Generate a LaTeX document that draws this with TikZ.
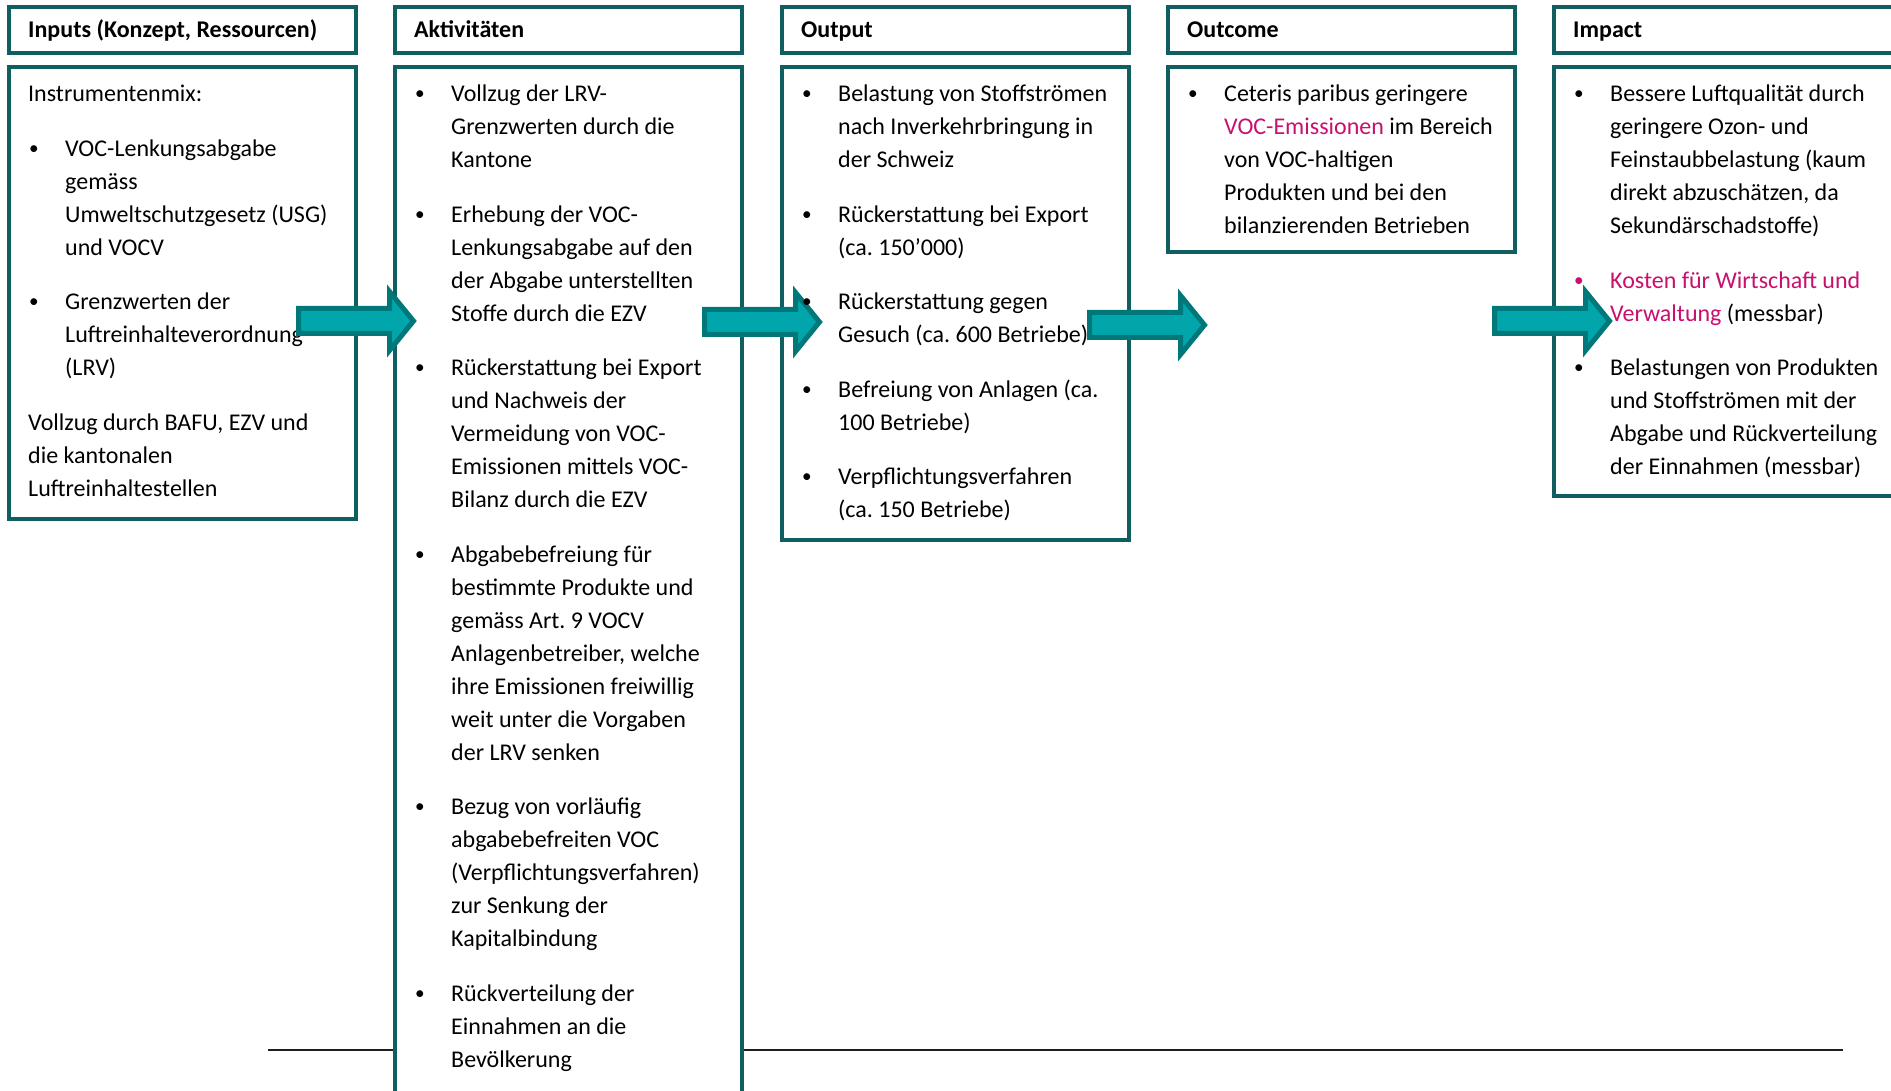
\documentclass[tikz,border=0pt]{standalone}
\usepackage{fontspec}
\usepackage{graphicx}
\setmainfont{Carlito}
\frenchspacing
\definecolor{boxc}{RGB}{16,94,96}
\definecolor{arrfill}{RGB}{0,166,171}
\definecolor{arredge}{RGB}{0,120,122}
\definecolor{mag}{RGB}{200,16,110}
\definecolor{rulec}{RGB}{30,30,30}
\newcommand\bodyf{\fontsize{24pt}{33pt}\selectfont}
\newcommand\colt[1]{\vtop{\hsize=380pt\bodyf\frenchspacing\raggedright\def\\{\break}\parindent=0pt\parskip=21.5pt\relax #1\par}}
\newcommand\mybul{\raisebox{1.7pt}{\scalebox{0.8}{\textbullet}}}
\newcommand\bitem[2][black]{\par\hangindent=37pt\hangafter=1\noindent\makebox[37pt][l]{\hspace{1pt}\textcolor{#1}{\mybul}}#2\par}
\newcommand\bigarr[2]{\begin{scope}[shift={(#1,#2)}]\draw[bigarrow] (2.5,-12.5) -- (93.5,-12.5) -- (93.5,-29.5) -- (117.5,0) -- (93.5,29.5) -- (93.5,12.5) -- (2.5,12.5) -- cycle;\end{scope}}
\tikzset{
  boxline/.style={draw=boxc, line width=4pt, fill=white},
  bigarrow/.style={draw=arredge, fill=arrfill, line width=5pt, line join=miter},
  hdr/.style={anchor=base west, inner sep=0pt, font=\bodyf\bfseries},
  txt/.style={anchor=base west, inner sep=0pt},
  sepline/.style={draw=rulec, line width=2.5pt}
}
\begin{document}
\begin{tikzpicture}[x=1pt,y=-1pt]
\useasboundingbox (0,0) rectangle (1891,1091);
\clip (0,0) rectangle (1891,1091);
\fill[white] (0,0) rectangle (1891,1091);
% separator line
\coordinate (sl) at (268,1050);
\coordinate (sr) at (1843,1050);
\draw[sepline] (sl) -- (sr);
% boxes
\foreach \x/\b in {9/519, 395/1110, 782/540, 1168/252, 1554/496}{
  \draw[boxline] (\x,7) rectangle ++(347,46);
  \draw[boxline] (\x,67.5) rectangle (\x+347,\b);
}
% headers
\node[hdr] (h1) at (28,38) {Inputs (Konzept, Ressourcen)};
\node[hdr] (h2) at (414,38) {Aktivitäten};
\node[hdr] (h3) at (801,38) {Output};
\node[hdr] (h4) at (1187,38) {Outcome};
\node[hdr] (h5) at (1573,38) {Impact};
% column 1 text
\node[txt] (t1) at (28,101.6) {\colt{%
Instrumentenmix:\par
\bitem{VOC-Lenkungsabgabe\\gemäss\\Umweltschutzgesetz (USG)\\und VOCV}
\bitem{Grenzwerten der\\Luftreinhalteverordnung\\(LRV)}
Vollzug durch BAFU, EZV und\\die kantonalen\\Luftreinhaltestellen}};
% column 2 text
\node[txt] (t2) at (414,101.6) {\colt{%
\bitem{Vollzug der LRV-\\Grenzwerten durch die\\Kantone}
\bitem{Erhebung der VOC-\\Lenkungsabgabe auf den\\der Abgabe unterstellten\\Stoffe durch die EZV}
\bitem{Rückerstattung bei Export\\und Nachweis der\\Vermeidung von VOC-\\Emissionen mittels VOC-\\Bilanz durch die EZV}
\bitem{Abgabebefreiung für\\bestimmte Produkte und\\gemäss Art. 9 VOCV\\Anlagenbetreiber, welche\\ihre Emissionen freiwillig\\weit unter die Vorgaben\\der LRV senken}
\bitem{Bezug von vorläufig\\abgabebefreiten VOC\\(Verpflichtungsverfahren)\\zur Senkung der\\Kapitalbindung}
\bitem{Rückverteilung der\\Einnahmen an die\\Bevölkerung}}};
% arrows
\bigarr{296}{321}
\bigarr{702}{322}
\bigarr{1087}{325}
\bigarr{1492}{321}
% column 3 text
\node[txt] (t3) at (801,101.6) {\colt{%
\bitem{Belastung von Stoffströmen\\nach Inverkehrbringung in\\der Schweiz}
\bitem{Rückerstattung bei Export\\(ca. 150’000)}
\bitem{Rückerstattung gegen\\Gesuch (ca. 600 Betriebe)}
\bitem{Befreiung von Anlagen (ca.\\100 Betriebe)}
\bitem{Verpflichtungsverfahren\\(ca. 150 Betriebe)}}};
% column 4 text
\node[txt] (t4) at (1187,101.6) {\colt{%
\bitem{Ceteris paribus geringere\\\textcolor{mag}{VOC-Emissionen} im Bereich\\von VOC-haltigen\\Produkten und bei den\\bilanzierenden Betrieben}}};
% column 5 text
\node[txt] (t5) at (1573,101.6) {\colt{%
\bitem{Bessere Luftqualität durch\\geringere Ozon- und\\Feinstaubbelastung (kaum\\direkt abzuschätzen, da\\Sekundärschadstoffe)}
\bitem[mag]{\textcolor{mag}{Kosten für Wirtschaft und\\Verwaltung} (messbar)}
\bitem{Belastungen von Produkten\\und Stoffströmen mit der\\Abgabe und Rückverteilung\\der Einnahmen (messbar)}}};
\end{tikzpicture}
\end{document}
